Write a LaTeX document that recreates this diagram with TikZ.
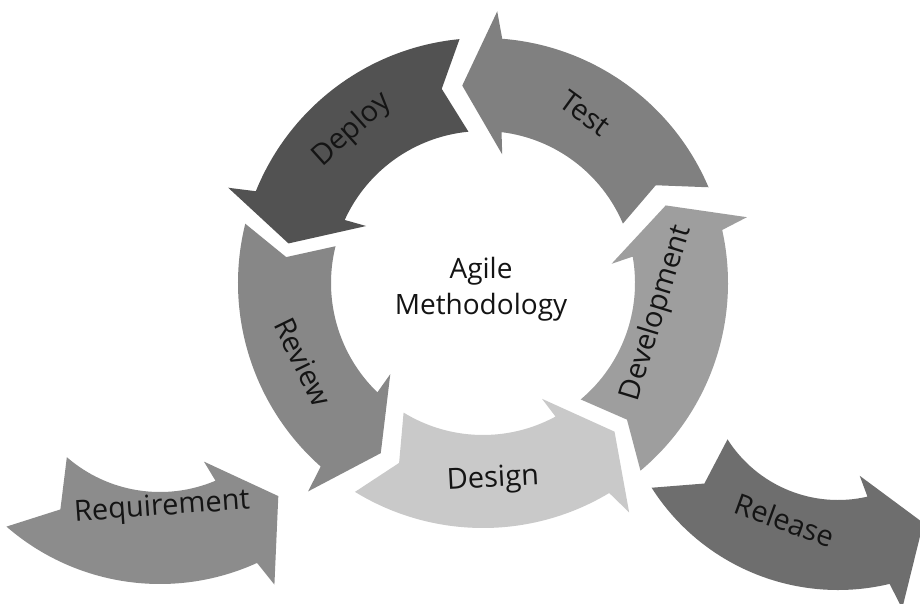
\documentclass[tikz,border=0pt]{standalone}
\usepackage{fontspec}
\setmainfont{Open Sans}
\usetikzlibrary{calc}
\definecolor{cDeploy}{gray}{0.32}
\definecolor{cTest}{gray}{0.50}
\definecolor{cDev}{gray}{0.62}
\definecolor{cDesign}{gray}{0.79}
\definecolor{cReview}{gray}{0.53}
\definecolor{cReq}{gray}{0.55}
\definecolor{cRel}{gray}{0.43}
% #1 centre, #2 inner r, #3 outer R, #4 tail angle, #5 notch angle,
% #6 inner joint angle, #7 outer joint angle, #8 tip angle, #9 fill colour
\newcommand{\carrow}[9]{%
  \pgfmathsetmacro{\cmid}{(#2+#3)/2}%
  \pgfmathsetmacro{\cbi}{#2-22}%
  \pgfmathsetmacro{\cbo}{#3+27}%
  \pgfmathsetmacro{\cbia}{#6-1.5}%
  \pgfmathsetmacro{\cboa}{#7+1.5}%
  \fill[#9] ($(#1)+(#4:#3pt)$) arc[start angle=#4, end angle=#7, radius=#3pt]
    -- ($(#1)+(\cboa:\cbo pt)$) -- ($(#1)+(#8:\cmid pt)$)
    -- ($(#1)+(\cbia:\cbi pt)$) -- ($(#1)+(#6:#2pt)$)
    arc[start angle=#6, end angle=#4, radius=#2pt]
    -- ($(#1)+(#5:\cmid pt)$) -- cycle;%
}
\newcommand{\ringseg}[2]{%
  \pgfmathsetmacro{\rsn}{#1+6.5}%
  \pgfmathsetmacro{\rsi}{#1+60}%
  \pgfmathsetmacro{\rso}{#1+62.5}%
  \pgfmathsetmacro{\rst}{#1+73}%
  \carrow{C}{152}{245}{#1}{\rsn}{\rsi}{\rso}{\rst}{#2}%
}
\begin{document}
\begin{tikzpicture}[x=1pt,y=1pt,
  lbl/.style={font=\fontsize{29}{34}\selectfont, text=black!92, inner sep=0pt},
  ctr/.style={font=\fontsize{28}{36}\selectfont, text=black!92, align=center, inner sep=0pt}]
\useasboundingbox[fill=white] (0,0) rectangle (920,603);
\coordinate (C) at (483,320);
\coordinate (Q) at (160,253);
\coordinate (E) at (838,234);
% ring
\ringseg{23}{cTest}
\ringseg{95.5}{cDeploy}
\ringseg{166}{cReview}
\ringseg{238.5}{cDesign}
\ringseg{310}{cDev}
% side arrows
\carrow{Q}{142}{234}{229}{238}{293}{294.5}{309}{cReq}
\carrow{E}{131}{221}{212.5}{220.6}{283}{283.5}{299}{cRel}
% labels
\node[lbl, rotate=-36] (test) at (585,490) {Test};
\node[lbl, rotate=42] (deploy) at (352,473) {Deploy};
\node[lbl, rotate=-64] (review) at (303,241) {Review};
\node[lbl, rotate=3] (design) at (493,123) {Design};
\node[lbl, rotate=73] (dev) at (657,290) {Development};
\node[lbl, rotate=4] (req) at (162,95) {Requirement};
\node[lbl, rotate=-20] (rel) at (785,83) {Release};
\node[ctr] (agile) at (481,314) {Agile\\Methodology};
\end{tikzpicture}
\end{document}
